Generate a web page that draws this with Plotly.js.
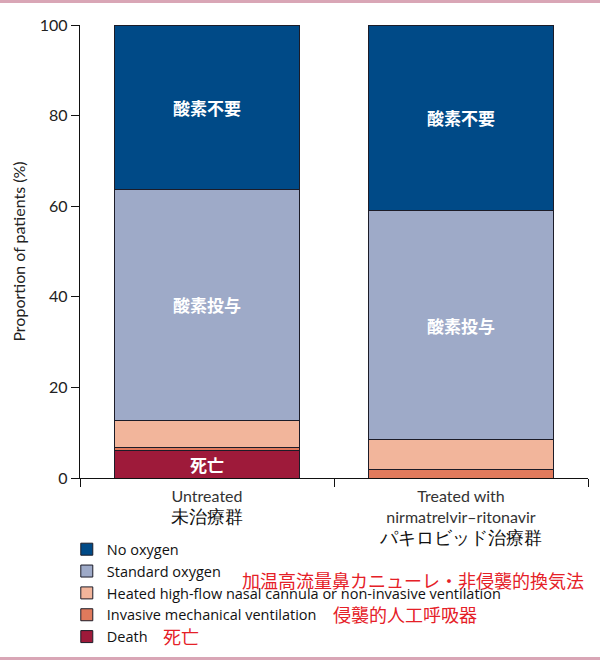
<!DOCTYPE html>
<html>
<head>
<meta charset="utf-8">
<script src="https://cdn.plot.ly/plotly-3.0.1.min.js"></script>
<style>
  html, body { margin: 0; padding: 0; background: #fff; }
  #frame { width: 600px; height: 660px; box-sizing: border-box; border-top: 3px solid #d9a6b6; border-bottom: 3px solid #d9a6b6; }
  #chart { width: 600px; height: 654px; }
</style>
</head>
<body>
<div id="frame"><div id="chart"></div></div>
<script>
// Data
const groups = ['Untreated', 'Treated'];
const groupLabels = [
    'Untreated<br><span style="font-size:18px;color:#111">未治療群</span>',
    'Treated with<br>nirmatrelvir–ritonavir<br><span style="font-size:18px;color:#111">パキロビッド治療群</span>'
];

// stacked from the bottom up
const death = [6.1, 0];
const invasive = [0.7, 1.8];
const heated = [5.9, 6.6];
const standardOxygen = [51.0, 50.6];
const noOxygen = [36.3, 41.0];

const deathText = ['死亡', ''];
const standardText = ['酸素投与', '酸素投与'];
const noOxygenText = ['酸素不要', '酸素不要'];

const colors = {
    death: '#9e1a3a',
    invasive: '#e07a5c',
    heated: '#f2b59b',
    standard: '#9eaac8',
    none: '#004a87'
};

const labelFont = { family: 'Noto Sans CJK JP, sans-serif', size: 17, color: '#ffffff', weight: 'bold' };
const outline = { color: '#1c1c28', width: 1 };

function bar(name, y, color, text) {
    return {
        type: 'bar', name: name, x: groups, y: y,
        width: 0.725,
        marker: { color: color, line: outline },
        text: text || null,
        textposition: text ? 'inside' : 'none',
        insidetextanchor: 'middle',
        constraintext: 'none',
        textfont: labelFont,
        hoverinfo: 'skip'
    };
}

const traces = [
    bar('Death', death, colors.death, deathText),
    bar('Invasive mechanical ventilation', invasive, colors.invasive),
    bar('Heated high-flow nasal cannula or non-invasive ventilation', heated, colors.heated),
    bar('Standard oxygen', standardOxygen, colors.standard, standardText),
    bar('No oxygen', noOxygen, colors.none, noOxygenText)
];

const red = '#e52027';
const jpRed = { family: 'Noto Sans CJK JP, sans-serif', size: 18, color: red };

const layout = {
    width: 600, height: 654,
    barmode: 'stack',
    margin: { l: 80, r: 12, t: 22, b: 179, autoexpand: false },
    paper_bgcolor: '#fff',
    plot_bgcolor: '#fff',
    font: { family: 'Lato, Liberation Sans, sans-serif', size: 16, color: '#222' },
    showlegend: true,
    legend: {
        traceorder: 'reversed',
        x: -0.026, y: -0.122, xanchor: 'left', yanchor: 'top',
        bgcolor: 'rgba(0,0,0,0)',
        font: { family: 'Open Sans, sans-serif', size: 14.5, color: '#111' },
        tracegroupgap: 0,
        itemclick: false
    },
    xaxis: {
        type: 'category',
        range: [-0.5, 1.5],
        tickvals: groups,
        ticktext: groupLabels,
        tickson: 'boundaries',
        ticks: 'outside', ticklen: 8, tickcolor: '#111',
        ticklabelstandoff: 4,
        showline: true, linecolor: '#111', linewidth: 1.2,
        showgrid: false, zeroline: false,
        tickfont: { size: 16, color: '#333' }
    },
    yaxis: {
        range: [0, 100],
        tickvals: [0, 20, 40, 60, 80, 100],
        ticks: 'outside', ticklen: 8, tickcolor: '#111',
        showline: true, linecolor: '#111', linewidth: 1.2,
        showgrid: false, zeroline: false,
        tickfont: { size: 16, color: '#222' },
        title: { text: 'Proportion of patients (%)', font: { size: 16, color: '#222' }, standoff: 10 }
    },
    annotations: [
        { xref: 'paper', yref: 'paper', x: 0.315, y: -0.225, xanchor: 'left', yanchor: 'middle',
          text: '加温高流量鼻カニューレ・非侵襲的換気法', showarrow: false, font: jpRed },
        { xref: 'paper', yref: 'paper', x: 0.494, y: -0.300, xanchor: 'left', yanchor: 'middle',
          text: '侵襲的人工呼吸器', showarrow: false, font: jpRed },
        { xref: 'paper', yref: 'paper', x: 0.159, y: -0.349, xanchor: 'left', yanchor: 'middle',
          text: '死亡', showarrow: false, font: jpRed }
    ]
};

Plotly.newPlot('chart', traces, layout, { displayModeBar: false, staticPlot: true });
</script>
</body>
</html>
